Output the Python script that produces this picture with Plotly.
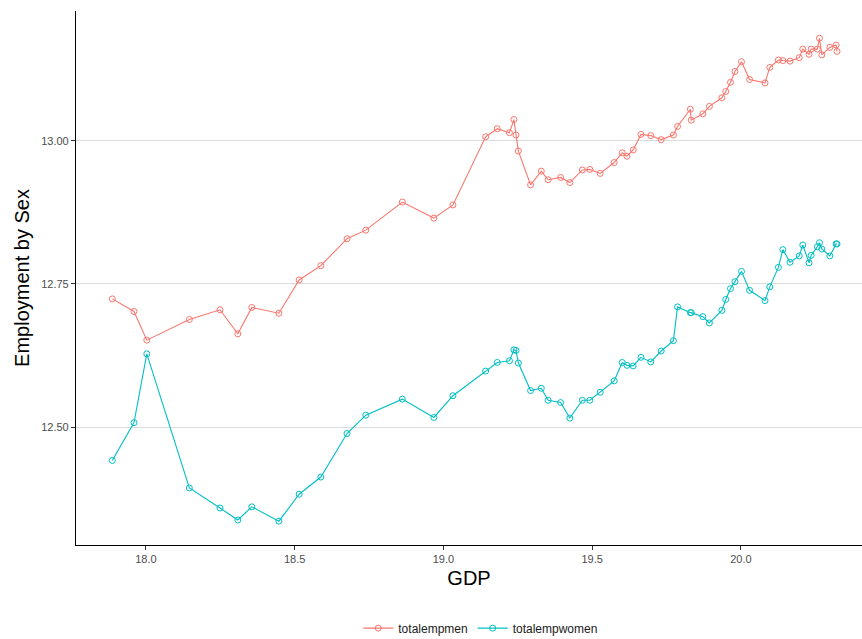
import plotly.graph_objects as go

# GDP (log scale) and employment by sex (log scale)
gdp = [17.887, 17.960, 18.003, 18.146, 18.249, 18.309, 18.356, 18.447, 18.515,
       18.588, 18.676, 18.739, 18.862, 18.968, 19.032, 19.142, 19.181, 19.222,
       19.237, 19.244, 19.252, 19.293, 19.329, 19.352, 19.394, 19.425, 19.467,
       19.492, 19.527, 19.574, 19.601, 19.617, 19.638, 19.664, 19.697, 19.732,
       19.773, 19.787, 19.830, 19.833, 19.872, 19.894, 19.936, 19.949, 19.965,
       19.980, 20.002, 20.029, 20.081, 20.097, 20.126, 20.141, 20.165, 20.196,
       20.208, 20.229, 20.236, 20.257, 20.264, 20.272, 20.299, 20.320, 20.323]

totalempmen = [12.724, 12.702, 12.652, 12.688, 12.705, 12.663, 12.709, 12.699, 12.757,
               12.782, 12.829, 12.844, 12.893, 12.865, 12.888, 13.007, 13.021, 13.014,
               13.037, 13.010, 12.982, 12.923, 12.947, 12.932, 12.936, 12.927, 12.949,
               12.950, 12.943, 12.962, 12.979, 12.973, 12.984, 13.011, 13.009, 13.002,
               13.010, 13.025, 13.055, 13.036, 13.047, 13.060, 13.075, 13.086, 13.102,
               13.121, 13.138, 13.107, 13.101, 13.128, 13.141, 13.140, 13.139, 13.145,
               13.160, 13.151, 13.160, 13.160, 13.179, 13.150, 13.163, 13.167, 13.156]

totalempwomen = [12.442, 12.508, 12.628, 12.394, 12.359, 12.338, 12.361, 12.336, 12.383,
                 12.413, 12.489, 12.521, 12.549, 12.517, 12.555, 12.598, 12.613, 12.616,
                 12.635, 12.634, 12.612, 12.564, 12.568, 12.547, 12.543, 12.516, 12.547,
                 12.547, 12.561, 12.581, 12.613, 12.608, 12.607, 12.622, 12.614, 12.633,
                 12.651, 12.710, 12.700, 12.700, 12.693, 12.682, 12.704, 12.723, 12.742,
                 12.754, 12.772, 12.739, 12.721, 12.745, 12.779, 12.810, 12.788, 12.799,
                 12.818, 12.787, 12.800, 12.815, 12.822, 12.811, 12.799, 12.820, 12.820]

x_ticks = [18.0, 18.5, 19.0, 19.5, 20.0]
x_tick_labels = ["18.0", "18.5", "19.0", "19.5", "20.0"]
y_ticks = [12.50, 12.75, 13.00]
y_tick_labels = ["12.50", "12.75", "13.00"]

series = [("totalempmen", totalempmen, "#F8766D"),
          ("totalempwomen", totalempwomen, "#00BFC4")]

fig = go.Figure()
for name, vals, color in series:
    fig.add_trace(go.Scatter(
        x=gdp, y=vals, name=name, mode="lines+markers",
        line=dict(color=color, width=1.1),
        marker=dict(symbol="circle-open", size=6, color=color, line=dict(width=1)),
    ))

font = "Liberation Sans, Arial, sans-serif"
fig.update_layout(
    width=862, height=639,
    margin=dict(l=76, r=0, t=11, b=94),
    paper_bgcolor="white", plot_bgcolor="white",
    font=dict(family=font, color="black"),
    showlegend=True,
    legend=dict(orientation="h", x=0.515, xanchor="center",
                yref="container", y=0.017, yanchor="middle",
                font=dict(size=12, color="#1a1a1a", family=font),
                itemwidth=30),
    xaxis=dict(
        range=[17.765, 20.407],
        tickvals=x_ticks, ticktext=x_tick_labels,
        showgrid=False, zeroline=False,
        showline=True, linecolor="black", linewidth=1.2,
        ticks="outside", ticklen=4, tickcolor="#333333", tickwidth=1,
        tickfont=dict(size=11, color="#4D4D4D"),
        title=dict(text="GDP", font=dict(size=20, color="black"), standoff=6),
    ),
    yaxis=dict(
        range=[12.2944, 13.2265],
        tickvals=y_ticks, ticktext=y_tick_labels,
        showgrid=True, gridcolor="#DCDCDC", gridwidth=1,
        zeroline=False,
        showline=True, linecolor="black", linewidth=1.2,
        ticks="outside", ticklen=4, tickcolor="#333333", tickwidth=1,
        tickfont=dict(size=11, color="#4D4D4D"),
        title=dict(text="Employment by Sex", font=dict(size=20, color="black"), standoff=6),
    ),
)

fig.write_html("out.html")
